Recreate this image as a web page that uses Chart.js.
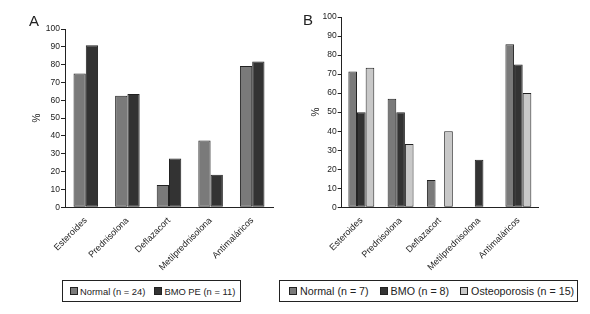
<!DOCTYPE html>
<html><head><meta charset="utf-8">
<script src="https://cdn.jsdelivr.net/npm/chart.js@4.4.0/dist/chart.umd.min.js"></script>
<style>
html,body{margin:0;padding:0;background:#fff;}
body{width:590px;height:314px;position:relative;overflow:hidden;font-family:"Liberation Sans",Arial,sans-serif;color:#222;}
.cv{position:absolute;top:0;}
.panel{position:absolute;font-size:15px;line-height:1;}
.legend{position:absolute;border:1px solid #222;box-sizing:border-box;display:flex;align-items:center;white-space:nowrap;}
.item{display:flex;align-items:center;}
.sw{width:8px;height:8px;border:1px solid #222;box-sizing:border-box;}
</style></head>
<body>
<div class="cv" style="left:0;width:290px;height:275px;"><canvas id="cA"></canvas></div>
<div class="cv" style="left:290px;width:300px;height:275px;"><canvas id="cB"></canvas></div>
<div class="panel" style="left:29px;top:13px;">A</div>
<div class="panel" style="left:303px;top:12px;">B</div>
<div class="legend" id="legA" style="left:62px;top:280px;width:179px;height:22px;padding-left:7px;font-size:9.4px;"></div>
<div class="legend" id="legB" style="left:279px;top:280px;width:299px;height:22px;padding-left:9px;font-size:10.7px;"></div>
<script>
const categories = ["Esteroides","Prednisolona","Deflazacort","Metilprednisolona","Antimaláricos"];
const yTicks = [0,10,20,30,40,50,60,70,80,90,100];
// Panel A
const labelsA = ["Normal (n = 24)","BMO PE (n = 11)"];
const normalA = [75, 62.5, 12.5, 37.5, 79.2];
const bmoA = [90.9, 63.6, 27.3, 18.2, 81.8];
// Panel B
const labelsB = ["Normal (n = 7)","BMO (n = 8)","Osteoporosis (n = 15)"];
const normalB = [71.4, 57.1, 14.3, 0, 85.7];
const bmoB = [50, 50, 0, 25, 75];
const osteoB = [73.3, 33.3, 40, 0, 60];

const colors = ["#7a7a7a","#333333","#c8c8c8"];
const FONT = "'Liberation Sans', Arial, sans-serif";
Chart.defaults.font.family = FONT;
Chart.defaults.color = "#222";

function makeChart(id, seriesLabels, series, opts){
  const datasets = series.map((d,i)=>({
    label: seriesLabels[i], data: d, backgroundColor: colors[i],
    borderColor: "#222", borderWidth: 1, borderSkipped: false,
    categoryPercentage: opts.catPct, barPercentage: 1
  }));
  return new Chart(document.getElementById(id), {
    type: "bar",
    data: { labels: categories, datasets },
    options: {
      responsive: true, maintainAspectRatio: false, animation: false,
      layout: { padding: opts.padding },
      plugins: { legend: { display: false }, tooltip: { enabled: false } },
      scales: {
        x: {
          grid: { display: false },
          border: { display: true, color: "#222", width: 1 },
          ticks: { minRotation: 45, maxRotation: 45, autoSkip: false, padding: 0, font: { size: 9 }, color: "#222" },
          afterFit: s => { s.height = opts.xHeight; }
        },
        y: {
          min: 0, max: 100,
          afterBuildTicks: s => { s.ticks = yTicks.map(v=>({value:v})); },
          grid: { display: true, drawOnChartArea: false, drawTicks: true, tickLength: 4, color: "#222" },
          border: { display: true, color: "#222", width: 1 },
          ticks: { padding: 1, font: { size: 8.5 }, color: "#222" },
          title: { display: true, text: "%", font: { size: 10 }, padding: 0, color: "#222" },
          afterFit: s => { s.width = opts.yWidth; }
        }
      }
    }
  });
}
makeChart("cA", labelsA, [normalA, bmoA], { catPct: 0.59, padding: {left:31, right:17, top:29, bottom:0}, yWidth: 34, xHeight: 67.7 });
makeChart("cB", labelsB, [normalB, bmoB, osteoB], { catPct: 0.66, padding: {left:20, right:52, top:17, bottom:0}, yWidth: 31.7, xHeight: 67.7 });

function legend(id, labels, gap, swGap){
  const el = document.getElementById(id);
  labels.forEach((l,i)=>{
    const it = document.createElement("div"); it.className = "item";
    if(i>0) it.style.marginLeft = gap + "px";
    const sw = document.createElement("div"); sw.className = "sw"; sw.style.background = colors[i];
    sw.style.marginRight = swGap + "px";
    const t = document.createElement("span"); t.textContent = l;
    it.appendChild(sw); it.appendChild(t); el.appendChild(it);
  });
}
legend("legA", labelsA, 9, 2);
legend("legB", labelsB, 11, 3);
</script>
</body></html>
